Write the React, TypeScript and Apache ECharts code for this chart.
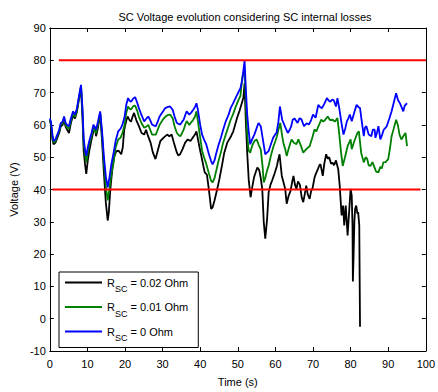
import React, { useEffect, useRef } from "react";
import * as echarts from "echarts";

const titleText = "SC Voltage evolution considering SC internal losses";
const xName = "Time (s)";
const yName = "Voltage (V)";
const seriesNames = ["R_SC = 0.02 Ohm", "R_SC = 0.01 Ohm", "R_SC = 0 Ohm"];
const legendSuffix = [" = 0.02 Ohm", " = 0.01 Ohm", " = 0 Ohm"];
const seriesColors = ["#000000", "#008000", "#0000ff"];

const upperLimit: [number, number][] = [[2.4, 80], [100, 80]];
const lowerLimit: [number, number][] = [[0.7, 40], [98.6, 40]];

const blackSeries: [number, number][] = [
  [0, 61.5], [0.3, 60], [0.7, 55.5], [1, 54], [1.5, 54.5], [2, 56], [2.5, 57.5], [2.9, 59.5], [3.4, 60], [3.8, 61.5],
  [4.2, 59.5], [4.6, 58.5], [5.1, 57.5], [5.6, 60.5], [6.2, 63], [6.7, 62], [7.2, 64], [7.7, 67.5], [8.3, 71.5], [8.7, 62],
  [9.0, 52], [9.4, 47.5], [9.7, 44.8], [10.1, 49], [10.5, 52], [11.1, 55.5], [11.6, 58], [12.0, 59.5], [12.3, 56.5], [12.8, 59],
  [13.4, 63.5], [13.9, 55], [14.4, 45], [14.9, 36], [15.4, 30.4], [15.7, 33], [16.1, 40], [16.6, 46], [17.1, 50], [17.7, 51.9],
  [18.3, 52], [19.0, 50.9], [19.4, 53], [19.8, 58.6], [20.3, 61.1], [20.7, 62.6], [21.2, 61.5], [21.6, 61], [22.0, 62.5], [22.4, 63.7],
  [23.0, 61.5], [23.7, 59.6], [24.4, 57.5], [25.1, 57], [25.6, 58.5], [26.0, 57], [26.8, 54.5], [27.4, 51.5], [28.1, 49.4], [28.7, 52],
  [29.4, 55], [30.2, 56], [31.2, 57], [31.8, 56.5], [32.4, 57], [33.0, 54.5], [33.8, 51.4], [34.2, 50.5], [34.7, 51], [35.3, 52.5],
  [36.0, 54.5], [36.7, 55.5], [37.4, 55], [38.0, 56], [38.6, 57], [39.0, 58], [39.5, 55], [40.0, 52], [40.3, 50.4], [40.8, 47.5],
  [41.2, 45.3], [41.8, 44.5], [42.4, 39], [42.9, 34], [43.3, 34.5], [43.8, 36.6], [44.5, 40], [45.1, 43.2], [45.8, 47.5], [46.4, 51.4],
  [47.2, 54.5], [48.2, 56.5], [48.8, 58], [49.4, 60.5], [49.9, 62.5], [50.5, 64.5], [51.0, 66.5], [51.5, 68.5], [51.8, 72.9], [52.1, 62],
  [52.5, 51.4], [52.9, 43], [53.4, 37.6], [53.8, 40.5], [54.3, 43.7], [54.8, 45.5], [55.2, 46.8], [55.7, 46], [56.1, 43.5], [56.5, 40.2],
  [56.9, 29.9], [57.3, 24.8], [57.8, 31], [58.2, 39.1], [58.7, 41.5], [59.1, 42.7], [59.8, 45], [60.4, 47.3], [60.7, 49], [61.1, 50.9],
  [61.7, 44.2], [62.2, 42], [62.6, 40.2], [63.0, 35.6], [63.5, 38], [64.0, 39.5], [64.4, 42], [64.8, 44.2], [65.2, 41.5], [65.6, 40.2],
  [66.0, 42.5], [66.5, 41.5], [67.0, 37.5], [67.4, 36.1], [67.8, 38.5], [68.2, 41.2], [68.6, 38.5], [69.1, 37.1], [69.5, 39.5], [69.9, 40.5],
  [70.4, 43.7], [70.8, 45], [71.3, 46.3], [71.7, 47.5], [72.0, 47.8], [72.6, 44.2], [73.0, 48], [73.5, 50.9], [73.9, 49.5], [74.3, 50],
  [74.8, 48], [75.2, 48.3], [75.6, 47.5], [76.1, 49], [76.7, 46.3], [77.1, 41.2], [77.6, 32], [78.0, 35], [78.3, 28.9], [78.7, 35],
  [79.2, 25.8], [79.6, 33], [80.0, 40.2], [80.3, 38], [80.5, 28.9], [80.6, 11.5], [80.8, 20], [81.0, 30], [81.2, 34], [81.5, 35],
  [81.8, 32.5], [82.0, 33], [82.3, 28.9], [82.5, -2.5],
];

const greenSeries: [number, number][] = [
  [0, 61.5], [0.3, 60.5], [0.7, 56], [1, 54.5], [1.5, 55], [2, 56.5], [2.5, 58], [2.9, 60], [3.4, 60.5], [3.8, 62],
  [4.2, 60], [4.6, 59.2], [5.1, 58.8], [5.6, 61.2], [6.2, 63.5], [6.7, 62.5], [7.2, 64.5], [7.7, 68], [8.3, 72], [8.7, 64],
  [9.0, 54.5], [9.4, 50.5], [9.7, 48.5], [10.1, 51.5], [10.5, 54], [11.1, 56.5], [11.6, 59], [12.3, 57.5], [12.8, 60], [13.4, 63.5],
  [13.9, 57], [14.4, 48], [14.9, 41], [15.4, 36.6], [15.9, 40.5], [16.4, 45], [16.9, 48], [17.5, 53], [18.2, 55.5], [18.8, 56],
  [19.3, 57.5], [19.9, 60], [20.3, 63.5], [20.8, 65.7], [21.2, 65], [21.6, 64.8], [22.2, 65.8], [22.7, 66], [23.2, 64.5], [23.7, 62.5],
  [24.4, 60.5], [25.1, 59.1], [25.7, 59.5], [26.2, 60], [26.7, 58.5], [27.2, 57], [27.7, 57], [28.2, 57], [28.7, 58.5], [29.2, 60],
  [30, 61.5], [30.7, 62.5], [31.3, 63], [32, 63.2], [32.7, 62], [33.2, 59.5], [33.8, 57.5], [34.3, 56.8], [34.7, 56.5], [35.2, 57.5],
  [35.6, 58.5], [36.0, 60], [36.4, 61.2], [37.1, 60], [37.6, 60.8], [38.1, 61.5], [38.6, 62.5], [39.0, 64.2], [39.4, 61], [40.0, 56],
  [40.5, 52], [41.0, 50], [41.6, 48], [42.3, 45], [42.9, 42.7], [43.3, 42.2], [43.8, 43.5], [44.2, 45.5], [44.8, 48.5], [45.5, 51.5],
  [46.1, 54.5], [46.8, 57], [47.5, 59.5], [48.1, 61.6], [48.8, 63.5], [49.4, 65.5], [50.1, 67.5], [50.7, 69], [51.2, 74.9], [51.8, 77],
  [52.1, 68], [52.5, 57], [52.9, 52], [53.3, 51.4], [53.8, 53.5], [54.4, 55], [55.0, 55.5], [55.5, 54], [56.1, 52.4], [56.6, 47],
  [56.9, 42.2], [57.3, 43.5], [57.8, 46], [58.2, 47.3], [58.8, 50.5], [59.5, 53.4], [60.0, 55], [60.4, 56.5], [60.8, 58.5], [61.3, 60.6],
  [61.8, 56.5], [62.1, 54.5], [62.6, 52.5], [63.0, 50.4], [63.6, 53], [64.3, 55.5], [64.9, 54.5], [65.6, 54], [66.1, 55.5], [66.8, 53.5],
  [67.4, 51.4], [68.2, 52.5], [69.1, 53.4], [69.8, 56], [70.4, 58.6], [70.9, 58], [71.4, 59.5], [72.2, 61.6], [72.7, 61], [73.2, 61.5],
  [73.9, 62.6], [74.5, 61.5], [75.2, 61.6], [75.8, 61], [76.5, 62.1], [76.9, 58], [77.5, 51], [77.9, 47.3], [78.5, 50], [79.2, 53.4],
  [80.0, 55.5], [80.3, 52.5], [81.0, 55], [81.8, 57.5], [82.2, 58], [82.8, 51.4], [83.5, 48.4], [84.0, 50], [84.4, 49.5], [84.8, 47.5],
  [85.3, 47.3], [85.8, 48.5], [86.3, 47], [86.8, 45.5], [87.4, 45.3], [87.9, 47], [88.3, 46.5], [88.7, 48.4], [89.3, 48.5], [90.0, 49.4],
  [90.5, 53], [90.9, 56.5], [91.5, 59], [92.1, 61.6], [92.6, 59.8], [93.0, 57], [93.5, 55.5], [94.0, 56.5], [94.6, 57.5], [95.0, 53.4],
];

const blueSeries: [number, number][] = [
  [0, 62], [0.3, 61], [0.7, 57], [1, 55], [1.5, 55.5], [2, 57], [2.5, 58.5], [2.9, 60.5], [3.4, 61], [3.8, 62.6],
  [4.2, 60.6], [4.6, 60], [5.1, 59.6], [5.6, 62], [6.2, 64.2], [6.7, 63.2], [7.2, 65], [7.7, 68.5], [8.3, 72.4], [8.7, 65],
  [9.0, 56], [9.4, 52], [9.7, 50.4], [10.1, 53], [10.5, 55], [11.1, 57.5], [11.6, 60.1], [12.3, 58.5], [12.8, 61], [13.4, 64.2],
  [13.9, 58], [14.4, 50], [14.9, 44], [15.4, 40.7], [15.9, 44], [16.4, 48], [16.9, 50.9], [17.5, 55], [18.2, 58], [18.8, 58.8],
  [19.3, 60], [19.9, 62.6], [20.3, 66], [20.8, 68.3], [21.2, 67.5], [21.6, 67.2], [22.2, 68.2], [22.7, 68.6], [23.2, 67], [23.7, 65.2],
  [24.4, 63], [25.1, 61.1], [25.7, 62], [26.2, 62.6], [26.7, 61.5], [27.2, 60.1], [27.7, 59.8], [28.2, 59.6], [28.7, 61], [29.2, 62.6],
  [30, 64], [30.7, 65.2], [31.3, 65.5], [32, 65.7], [32.7, 64.6], [33.2, 62.5], [33.8, 60.6], [34.3, 60.3], [34.7, 60.1], [35.2, 61],
  [35.6, 61.6], [36.0, 63], [36.4, 64.2], [37.1, 63.2], [37.6, 63.8], [38.1, 64.6], [38.6, 65.5], [39.0, 66.7], [39.4, 64.6], [40.0, 60],
  [40.5, 57], [41.0, 55.5], [41.6, 54], [42.3, 51], [42.9, 48.8], [43.3, 47.8], [43.8, 49], [44.2, 50.9], [44.8, 53.5], [45.5, 56],
  [46.1, 58.5], [46.8, 61.1], [47.5, 63], [48.1, 65.2], [48.8, 66.8], [49.4, 68.3], [50.1, 70], [50.7, 71.4], [51.2, 74], [51.8, 80.0],
  [52.1, 72], [52.5, 63.2], [52.9, 58], [53.3, 54], [53.8, 55.5], [54.4, 57], [55.0, 59], [55.5, 60.6], [56.1, 59.6], [56.6, 56],
  [57.3, 50.9], [57.8, 51.5], [58.2, 51.9], [58.8, 54], [59.4, 56], [59.9, 57], [60.3, 57.5], [60.8, 61], [61.2, 65.7], [61.8, 61.6],
  [62.5, 59.6], [62.9, 58.5], [63.3, 57.5], [63.8, 58.5], [64.2, 59.6], [64.6, 61.6], [65.1, 62], [65.9, 60.6], [66.4, 62], [66.9, 61.8],
  [67.6, 59.6], [68.3, 60.5], [68.9, 60.1], [69.5, 61.5], [70.0, 63.2], [70.7, 62.2], [71.4, 66.2], [71.9, 65.5], [72.4, 65.2], [73.0, 66.5],
  [73.7, 68.3], [74.2, 67.5], [74.6, 67.2], [75.1, 67.8], [75.5, 67.7], [76.1, 65.7], [76.5, 68.3], [77.0, 65], [77.5, 61.1], [78.1, 57],
  [78.6, 59], [79.0, 61.1], [79.4, 62], [79.8, 63.2], [80.3, 61.1], [81.0, 64], [81.6, 66.2], [82.1, 65.5], [82.5, 65.2], [82.9, 61.6],
  [83.5, 56.5], [83.8, 59.1], [84.2, 59.6], [84.8, 57], [85.5, 56.5], [85.9, 58.5], [86.4, 58.5], [86.6, 56], [87.0, 57.5], [87.4, 59.6],
  [87.9, 55.5], [88.4, 57], [88.8, 58.5], [89.2, 59], [89.6, 59.6], [90.3, 62], [90.9, 64.2], [91.5, 67], [92.1, 69.8], [92.6, 67.7],
  [93.2, 66.5], [94.0, 64.2], [94.4, 66], [95.0, 66.7],
];

const FONT = "'Liberation Sans', Arial, sans-serif";

export default function App() {
  const ref = useRef<HTMLDivElement>(null);
  useEffect(() => {
    if (!ref.current) return;
    const chart = echarts.init(ref.current, undefined, { renderer: "svg" });
    const axisCommon = {
      type: "value" as const,
      axisLine: { show: true, onZero: false, lineStyle: { color: "#000", width: 1 } },
      axisTick: { show: true, inside: true, length: 4, lineStyle: { color: "#000" } },
      splitLine: { show: false },
    };
    const dataSets = [blackSeries, greenSeries, blueSeries];
    const mainSeries = dataSets.map((d, i) => ({
      name: seriesNames[i],
      type: "line" as const,
      data: d,
      symbol: "none",
      showSymbol: false,
      lineStyle: { color: seriesColors[i], width: 1.8 },
      itemStyle: { color: seriesColors[i] },
      z: 2 + i,
    }));
    const limitSeries = [upperLimit, lowerLimit].map((d, i) => ({
      name: "limit" + i,
      type: "line" as const,
      data: d,
      symbol: "none",
      showSymbol: false,
      lineStyle: { color: "#ff0000", width: 2 },
      z: 6,
    }));
    chart.setOption({
      animation: false,
      backgroundColor: "#ffffff",
      textStyle: { fontFamily: FONT },
      title: {
        text: titleText,
        left: 240,
        textAlign: "center",
        top: 6,
        textStyle: { fontSize: 11, fontWeight: "normal", color: "#000", fontFamily: FONT },
      },
      grid: { left: 49, right: 6, top: 28, bottom: 38, containLabel: false },
      xAxis: [
        {
          ...axisCommon,
          min: 0,
          max: 100,
          interval: 10,
          position: "bottom",
          name: xName,
          nameLocation: "middle",
          nameGap: 25,
          nameTextStyle: { fontSize: 11, color: "#000", fontFamily: FONT },
          axisLabel: { fontSize: 11, color: "#000", margin: 7, fontFamily: FONT },
        },
        {
          ...axisCommon,
          min: 0,
          max: 100,
          interval: 10,
          position: "top",
          axisLabel: { show: false },
        },
      ],
      yAxis: [
        {
          ...axisCommon,
          min: -10,
          max: 90,
          interval: 10,
          position: "left",
          name: yName,
          nameLocation: "middle",
          nameGap: 30,
          nameTextStyle: { fontSize: 11, color: "#000", fontFamily: FONT },
          axisLabel: { fontSize: 11, color: "#000", margin: 4, fontFamily: FONT },
        },
        {
          ...axisCommon,
          min: -10,
          max: 90,
          interval: 10,
          position: "right",
          axisLabel: { show: false },
        },
      ],
      legend: {
        data: seriesNames,
        orient: "vertical",
        left: 59,
        top: 272,
        padding: [5, 10, 5, 6],
        itemGap: 8,
        itemWidth: 37,
        itemHeight: 2,
        icon: "rect",
        backgroundColor: "#ffffff",
        borderColor: "#000000",
        borderWidth: 1,
        borderRadius: 0,
        formatter: (name: string) => {
          const idx = seriesNames.indexOf(name);
          return "{r|R}{sub|SC}{r|" + legendSuffix[idx] + "}";
        },
        textStyle: {
          fontSize: 11,
          color: "#000",
          fontFamily: FONT,
          rich: {
            r: { fontSize: 11, lineHeight: 22, verticalAlign: "middle", color: "#000", fontFamily: FONT },
            sub: { fontSize: 9, lineHeight: 12, verticalAlign: "bottom", color: "#000", fontFamily: FONT },
          },
        },
      },
      series: [...mainSeries, ...limitSeries],
    });
    return () => chart.dispose();
  }, []);
  return <div ref={ref} style={{ width: 438, height: 392, position: "absolute", left: 0, top: 0 }} />;
}
